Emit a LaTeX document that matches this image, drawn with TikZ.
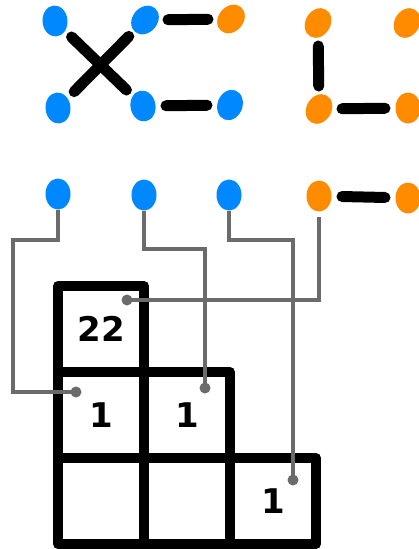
\documentclass[tikz,border=0pt]{standalone}
\usepackage{fontspec}
\setmainfont{DejaVu Sans}
\usetikzlibrary{shapes.geometric}
\definecolor{dotblue}{HTML}{0088FF}
\definecolor{dotorange}{HTML}{FF8C00}
\definecolor{wiregray}{HTML}{6B6B6B}

\begin{document}
\begin{tikzpicture}[x=1pt,y=-1pt,
  blob/.style={ellipse,minimum width=25pt,minimum height=31pt,inner sep=0pt},
  bond/.style={line width=11pt,line cap=round,shorten <=23pt,shorten >=23pt},
  wire/.style={wiregray,line width=4pt},
  cell/.style={draw,line width=10pt,line join=round,minimum size=86pt,inner sep=0pt,
    font=\bfseries\fontsize{34}{34}\selectfont}]
  \useasboundingbox (0,0) rectangle (418,549);
  % the two graphs on top
  \foreach \n/\x/\y/\c/\r in {a/55/21/dotblue/5, b/145/20/dotblue/-40, c/231/19/dotorange/-40,
      d/58/108/dotblue/5, e/143/106/dotblue/10, f/230/105/dotblue/-20,
      g/318/23/dotorange/-30, h/407/23/dotorange/-30, i/319/109/dotorange/-30, j/408/108/dotorange/0}{
    \node[blob,fill=\c,rotate=\r] (\n) at (\x,\y) {};
  }
  \draw[bond] (a.center) -- (e.center);
  \draw[bond] (b.center) -- (d.center);
  \draw[bond] (b.center) -- (c.center);
  \draw[bond] (e.center) -- (f.center);
  \draw[bond] (g.center) -- (i.center);
  \draw[bond] (i.center) -- (j.center);
  % the row below
  \foreach \n/\x/\y/\c in {q1/58/194/dotblue, q2/144/195/dotblue, q3/229/195/dotblue,
      q4/319/196/dotorange, q5/408/198/dotorange}{
    \node[blob,fill=\c] (\n) at (\x,\y) {};
  }
  \draw[bond] (q4.center) -- (q5.center);
  % the staircase of cells
  \node[cell] (c11) at (101,329) {22};
  \node[cell] (c21) at (101,415) {1};
  \node[cell] (c22) at (187,415) {1};
  \node[cell] (c31) at (101,501) {};
  \node[cell] (c32) at (187,501) {};
  \node[cell] (c33) at (273,501) {1};
  % wires from the dots into the cells
  \coordinate (p1) at (76,392);
  \coordinate (p2) at (205,388);
  \coordinate (p3) at (293,480);
  \coordinate (p4) at (127,300);
  \draw[wire] (q1.south) |- (13,240) |- (p1);
  \draw[wire] (q2.south) |- (205,249) -- (p2);
  \draw[wire] (q3.south) |- (293,240) -- (p3);
  \draw[wire,shorten <=5pt] (q4.south) |- (p4);
  \foreach \p in {p1,p2,p3,p4}
    \fill[wiregray] (\p) circle (5.5pt);
\end{tikzpicture}
\end{document}
